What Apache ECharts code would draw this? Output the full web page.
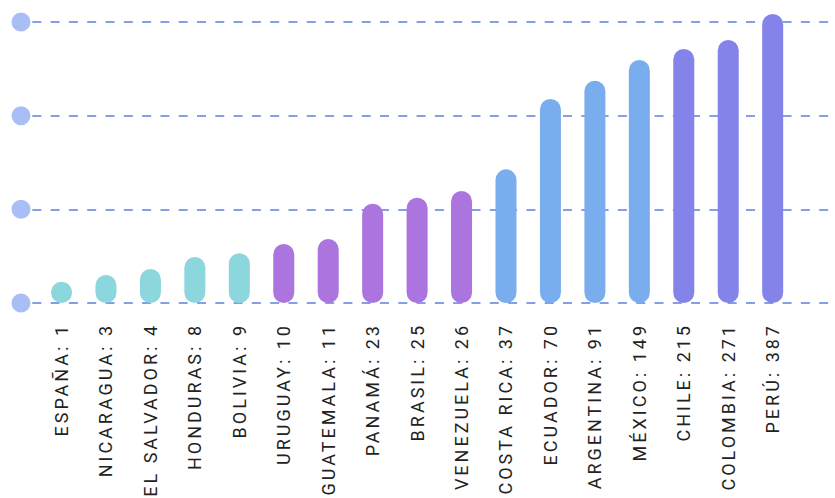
<!DOCTYPE html>
<html>
<head>
<meta charset="utf-8">
<script src="https://cdn.jsdelivr.net/npm/echarts@6/dist/echarts.min.js"></script>
<style>
html, body { margin: 0; padding: 0; background: #fff; }
#c { width: 835px; height: 498px; }
#c text { letter-spacing: 3px !important; }
</style>
</head>
<body>
<div id="c"></div>
<script>
const countries = ['ESPAÑA', 'NICARAGUA', 'EL SALVADOR', 'HONDURAS', 'BOLIVIA', 'URUGUAY', 'GUATEMALA', 'PANAMÁ', 'BRASIL', 'VENEZUELA', 'COSTA RICA', 'ECUADOR', 'ARGENTINA', 'MÉXICO', 'CHILE', 'COLOMBIA', 'PERÚ'];
const counts = [1, 3, 4, 8, 9, 10, 11, 23, 25, 26, 37, 70, 91, 149, 215, 271, 387];
const barValues = [22.7, 29.9, 36.3, 49.1, 53.1, 63, 68.3, 106, 112.4, 119.6, 142.7, 217.8, 237.3, 259.4, 271.2, 280.8, 308.5];
const groupOf = [0, 0, 0, 0, 0, 1, 1, 1, 1, 1, 2, 2, 2, 2, 3, 3, 3];
const groupColors = ['#8cd6dd', '#ab74de', '#79aded', '#8383e9'];
const yMin = 0, yMax = 300, yStep = 100;

const categories = countries.map((c, i) => c + ': ' + counts[i]);

const chart = echarts.init(document.getElementById('c'), null, { renderer: 'svg' });
chart.setOption({
  animation: false,
  backgroundColor: '#fff',
  grid: [
    { left: 21, right: 0, top: 22, bottom: 195 },
    { left: 39.3, right: 40.1, top: 22, bottom: 195 }
  ],
  xAxis: [
    { gridIndex: 0, type: 'value', show: false, min: 0, max: 1 },
    {
      gridIndex: 1, type: 'category', data: categories,
      axisLine: { show: false }, axisTick: { show: false },
      axisLabel: {
        interval: 0, rotate: 90, margin: 20,
        fontFamily: 'Roboto', fontSize: 18, color: '#222'
      }
    }
  ],
  yAxis: [
    {
      gridIndex: 0, type: 'value', min: yMin, max: yMax, interval: yStep,
      axisLine: { show: false }, axisTick: { show: false },
      splitLine: { show: true, lineStyle: { color: '#5f7fe0', width: 1.5, type: [9, 9.3], dashOffset: 6.6 } },
      axisLabel: {
        margin: 0, align: 'center',
        formatter: () => '{c| }',
        rich: { c: { width: 19, height: 19, borderRadius: 9.5, backgroundColor: '#a8bef5' } }
      }
    },
    { gridIndex: 1, type: 'value', min: yMin, max: yMax, interval: yStep, show: false, splitLine: { show: false } }
  ],
  series: [{
    type: 'bar', xAxisIndex: 1, yAxisIndex: 1, clip: false, barWidth: 21,
    data: barValues.map((v, i) => ({ value: v, itemStyle: { color: groupColors[groupOf[i]] } })),
    itemStyle: { borderRadius: 10.5 }
  }]
});
</script>
</body>
</html>
